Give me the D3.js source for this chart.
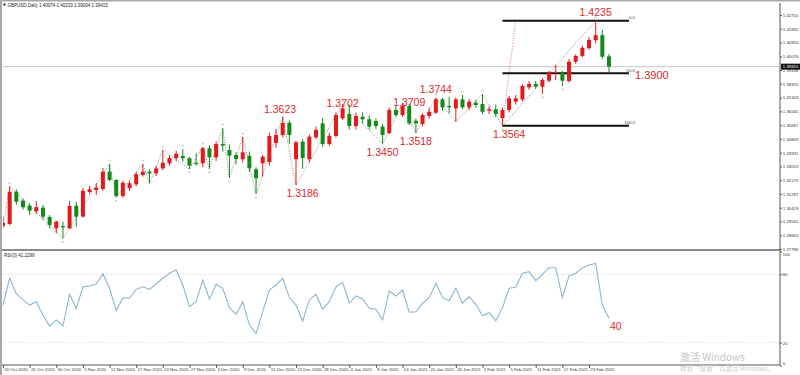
<!DOCTYPE html>
<html>
<head>
<meta charset="utf-8">
<script src="https://cdn.jsdelivr.net/npm/d3@7"></script>
<style>
  body { margin: 0; background: #fff; }
  svg { display: block; }
</style>
</head>
<body>
<div id="chart"></div>
<script>
// GBPUSD daily, 20 Oct 2020 -> 26 Feb 2021 (one entry per bar)
const opens = [1.2925,1.2938,1.3144,1.3087,1.3055,1.3019,1.3042,1.2983,1.2911,1.2925,
  1.2911,1.3055,1.2985,1.3142,1.3155,1.3161,1.3272,1.3219,1.3117,1.3166,
  1.3191,1.3251,1.3272,1.3261,1.3293,1.3325,1.3358,1.3372,1.3358,1.3329,
  1.3325,1.3421,1.3363,1.3448,1.3410,1.3378,1.3351,1.3373,1.3287,1.3325,
  1.3333,1.3455,1.3506,1.3584,1.3351,1.3463,1.3351,1.3491,1.3580,1.3448,
  1.3500,1.3612,1.3640,1.3563,1.3622,1.3606,1.3595,1.3559,1.3518,1.3665,
  1.3633,1.3691,1.3597,1.3576,1.3627,1.3648,1.3733,1.3691,1.3676,1.3733,
  1.3682,1.3712,1.3703,1.3660,1.3670,1.3614,1.3665,1.3718,1.3733,1.3810,
  1.3831,1.3814,1.3852,1.3903,1.3903,1.3850,1.3973,1.4010,1.4059,1.4110,
  1.4142,1.4007];
const highs = [1.2985,1.3177,1.3160,1.3100,1.3070,1.3085,1.3060,1.2995,1.2960,1.2953,
  1.3085,1.3080,1.3168,1.3180,1.3198,1.3295,1.3321,1.3225,1.3215,1.3215,
  1.3270,1.3321,1.3287,1.3310,1.3410,1.3375,1.3405,1.3416,1.3365,1.3389,
  1.3429,1.3440,1.3465,1.3550,1.3445,1.3395,1.3493,1.3400,1.3300,1.3380,
  1.3520,1.3545,1.3623,1.3600,1.3470,1.3480,1.3510,1.3560,1.3615,1.3520,
  1.3650,1.3702,1.3700,1.3650,1.3650,1.3630,1.3610,1.3575,1.3680,1.3690,
  1.3709,1.3705,1.3610,1.3645,1.3680,1.3744,1.3742,1.3750,1.3745,1.3761,
  1.3735,1.3730,1.3767,1.3690,1.3700,1.3680,1.3755,1.3760,1.3830,1.3850,
  1.3850,1.3870,1.3915,1.3952,1.3915,1.3990,1.4020,1.4075,1.4130,1.4235,
  1.4175,1.4023];
const lows = [1.2915,1.2930,1.3060,1.3030,1.2995,1.3002,1.2965,1.2911,1.2879,1.2847,
  1.2905,1.2921,1.2980,1.3130,1.3123,1.3150,1.3210,1.3108,1.3105,1.3150,
  1.3180,1.3240,1.3198,1.3245,1.3280,1.3310,1.3340,1.3335,1.3289,1.3310,
  1.3300,1.3289,1.3340,1.3400,1.3231,1.3320,1.3330,1.3270,1.3129,1.3240,
  1.3310,1.3425,1.3490,1.3450,1.3186,1.3290,1.3330,1.3480,1.3430,1.3435,
  1.3490,1.3600,1.3540,1.3540,1.3580,1.3540,1.3545,1.3450,1.3510,1.3620,
  1.3620,1.3570,1.3518,1.3560,1.3610,1.3640,1.3660,1.3644,1.3590,1.3670,
  1.3665,1.3680,1.3640,1.3640,1.3620,1.3564,1.3650,1.3700,1.3720,1.3795,
  1.3800,1.3767,1.3840,1.3856,1.3818,1.3840,1.3960,1.4000,1.4050,1.4090,
  1.3990,1.3900];
const closes = [1.2945,1.3144,1.3080,1.3045,1.3023,1.3046,1.2985,1.2932,1.2953,1.2917,
  1.3053,1.2985,1.3150,1.3159,1.3170,1.3272,1.3219,1.3117,1.3201,1.3198,
  1.3255,1.3272,1.3261,1.3293,1.3329,1.3359,1.3386,1.3358,1.3310,1.3321,
  1.3421,1.3363,1.3448,1.3438,1.3374,1.3353,1.3395,1.3293,1.3230,1.3367,
  1.3499,1.3506,1.3582,1.3506,1.3459,1.3358,1.3495,1.3538,1.3448,1.3501,
  1.3633,1.3676,1.3563,1.3627,1.3606,1.3559,1.3563,1.3506,1.3665,1.3633,
  1.3691,1.3580,1.3580,1.3633,1.3654,1.3733,1.3682,1.3682,1.3733,1.3682,
  1.3718,1.3697,1.3654,1.3670,1.3640,1.3665,1.3740,1.3740,1.3818,1.3831,
  1.3814,1.3856,1.3903,1.3909,1.3852,1.3973,1.4010,1.4062,1.4112,1.4142,
  1.4005,1.3942];
const rsi = [53,76.5,63,57.5,53,56,44.3,34.6,40,34.6,
  62.5,50,69,69.7,71.5,80.3,68,48,59.5,59,
  66.8,69,66.8,71.5,76.5,80.9,83.8,70.6,51.6,56,
  75,58.3,71.2,67.7,50.7,44.9,56,35.5,28.2,47.2,
  66.2,70.6,76.5,59.8,53,39,57.5,62.5,49.3,56,
  69,73,54.6,61,58.3,50.2,49.3,40,65.4,61,
  66.2,46.7,47.2,54.6,59.5,72.1,59.5,56.8,67.7,54.6,
  60.4,53.7,43.7,46.3,39.3,50.7,67.7,68.6,80.9,82.3,
  74.4,80,85.8,85.8,59.8,78.5,80.9,85.8,88.2,89.6,
  53,41.23];

// one label every 4 bars
const dateLabels = ["20 Oct 2020","26 Oct 2020","30 Oct 2020","5 Nov 2020","11 Nov 2020",
  "17 Nov 2020","23 Nov 2020","27 Nov 2020","3 Dec 2020","9 Dec 2020","15 Dec 2020",
  "21 Dec 2020","28 Dec 2020","4 Jan 2021","8 Jan 2021","14 Jan 2021","20 Jan 2021",
  "26 Jan 2021","1 Feb 2021","5 Feb 2021","11 Feb 2021","17 Feb 2021","23 Feb 2021"];
const priceTicks = [1.42710,1.41832,1.40954,1.40076,1.39198,1.38320,1.37443,1.36565,1.35687,
  1.34809,1.33931,1.33053,1.32175,1.31297,1.30419,1.29541,1.28663,1.27786];
const rsiTicks = [0, 20, 80, 100];

// zigzag swing points [bar, price]
const zigzag = [[0,1.2915],[1,1.3177],[9,1.2847],[16,1.3321],[17,1.3108],[21,1.3321],
  [22,1.3198],[24,1.3410],[28,1.3289],[30,1.3429],[31,1.3289],[33,1.3550],[34,1.3231],
  [36,1.3493],[38,1.3129],[42,1.3623],[44,1.3186],[51,1.3702],[57,1.3450],[60,1.3709],
  [62,1.3518],[65,1.3744],[68,1.3590],[72,1.3767],[75,1.3564],[89,1.4235]];
const fractalUp = [1,16,21,24,27,30,33,36,42,51,60,65,69,72,89];
const fractalDown = [9,17,28,31,34,38,44,57,62,75,81,84];

// fibonacci from 1.3564 low to 1.4235 high
const fibLow = 1.3564, fibHigh = 1.4235;
const fibLevels = [0, 50, 100];
const fibStart = 75, fibEnd = 94, fibAnchorBar = 77;

// red annotations: [text, bar, kind]
const notes = [["1.4235",89,"high"],["1.3623",41.6,"high"],["1.3702",51,"high"],
  ["1.3709",61,"high"],["1.3744",65,"high"],["1.3186",45,"low"],["1.3450",57,"low"],
  ["1.3518",62,"low"],["1.3564",76,"low"]];
const levelNote = "1.3900";
const rsiNote = "40";

const header = "GBPUSD,Daily  1.40074 1.40233 1.39004 1.39415";
const rsiHeader = "RSI(3) 41.2299";
const lastPrice = 1.39415;

const W = 800, H = 375;
const plotL = 3, plotR = 780, plotT = 3, mainB = 249, rsiB = 365;
const red = "#e3191c", green = "#15891a", noteRed = "#dc2a2a";
const tiny = "'Liberation Sans', Arial, sans-serif";

const svg = d3.select("#chart").append("svg")
  .attr("width", W).attr("height", H)
  .style("font-family", tiny);

svg.append("defs").append("clipPath").attr("id", "mainClip")
  .append("rect").attr("x", plotL).attr("y", plotT)
  .attr("width", plotR - plotL).attr("height", mainB - plotT);

const x = d3.scaleLinear().domain([0, 91]).range([3, 609]);
const y = d3.scaleLinear().domain([1.27786, 1.42710]).range([249, 15]);
const yR = d3.scaleLinear().domain([0, 100]).range([365.5, 251.5]);

// frame
svg.append("rect").attr("x", 0).attr("y", 0).attr("width", W).attr("height", 1.5).attr("fill", "#a8a8a8");
svg.append("rect").attr("x", 0).attr("y", 0).attr("width", 2).attr("height", H).attr("fill", "#a8a8a8");
svg.append("rect").attr("x", 2).attr("y", mainB).attr("width", plotR - 2).attr("height", 2).attr("fill", "#8a8a8a");
svg.append("line").attr("x1", plotR).attr("x2", plotR).attr("y1", plotT).attr("y2", rsiB)
  .attr("stroke", "#555").attr("stroke-width", 1);
svg.append("line").attr("x1", 2).attr("x2", plotR).attr("y1", rsiB).attr("y2", rsiB)
  .attr("stroke", "#555").attr("stroke-width", 1);

// headers
svg.append("rect").attr("x", 3.5).attr("y", 3.5).attr("width", 2).attr("height", 2).attr("fill", "#222");
svg.append("text").attr("x", 7.5).attr("y", 7).attr("font-size", 4.5).attr("fill", "#222").text(header);
svg.append("text").attr("x", 4).attr("y", 257).attr("font-size", 4.5).attr("fill", "#222").text(rsiHeader);

const main = svg.append("g").attr("clip-path", "url(#mainClip)");

// current price line
main.append("line").attr("x1", plotL).attr("x2", plotR)
  .attr("y1", y(lastPrice)).attr("y2", y(lastPrice))
  .attr("stroke", "#c4c4c4").attr("stroke-width", 1);

// zigzag
main.append("path").datum(zigzag)
  .attr("fill", "none").attr("stroke", "#6f866f").attr("stroke-width", 0.9)
  .attr("stroke-dasharray", "1,1.5")
  .attr("d", d3.line().x(d => x(d[0])).y(d => y(d[1])));

// fib trend line
main.append("line")
  .attr("x1", x(fibStart)).attr("y1", y(fibLow))
  .attr("x2", x(fibAnchorBar)).attr("y2", y(fibHigh))
  .attr("stroke", "#d2507a").attr("stroke-width", 0.8).attr("stroke-dasharray", "1,1.5");

// fib levels
fibLevels.forEach(lv => {
  const p = fibHigh - lv / 100 * (fibHigh - fibLow);
  main.append("line").attr("x1", x(fibStart)).attr("x2", x(fibEnd))
    .attr("y1", y(p)).attr("y2", y(p)).attr("stroke", "#111").attr("stroke-width", 2);
  main.append("text").attr("x", x(fibEnd) + 6).attr("y", y(p) - 1.5)
    .attr("text-anchor", "end").attr("font-size", 4.3).attr("fill", "#333")
    .text(lv.toFixed(1));
});

// candles
const bars = d3.range(opens.length).map(i => ({
  i, o: opens[i], h: highs[i], l: lows[i], c: closes[i]
}));
const candle = main.selectAll("g.candle").data(bars).join("g").attr("class", "candle");
candle.append("line")
  .attr("x1", d => x(d.i)).attr("x2", d => x(d.i))
  .attr("y1", d => y(d.h)).attr("y2", d => y(d.l))
  .attr("stroke", d => d.c >= d.o ? red : green).attr("stroke-width", 1);
candle.append("rect")
  .attr("x", d => x(d.i) - 2).attr("width", 4)
  .attr("y", d => y(Math.max(d.o, d.c)))
  .attr("height", d => Math.max(1, Math.abs(y(d.o) - y(d.c))))
  .attr("fill", d => d.c >= d.o ? red : green);

// fractal marks (small chevrons)
const chevron = (cx, cy, dir) => `M${cx - 1.3},${cy + 1.2 * dir}L${cx},${cy}L${cx + 1.3},${cy + 1.2 * dir}`;
main.selectAll("path.fup").data(fractalUp).join("path").attr("class", "fup")
  .attr("d", i => chevron(x(i), y(highs[i]) - 4, 1))
  .attr("fill", "none").attr("stroke", "#888").attr("stroke-width", 0.6);
main.selectAll("path.fdn").data(fractalDown).join("path").attr("class", "fdn")
  .attr("d", i => chevron(x(i), y(lows[i]) + 4, -1))
  .attr("fill", "none").attr("stroke", "#888").attr("stroke-width", 0.6);

// red notes
const nudge = { "1.3702": 8, "1.3709": 8, "1.3623": 1.5 };
svg.selectAll("text.note").data(notes).join("text").attr("class", "note")
  .attr("x", d => x(d[1]))
  .attr("y", d => y(+d[0]) + (d[2] === "high" ? -5 : 12) + (nudge[d[0]] || 0))
  .attr("text-anchor", "middle")
  .attr("font-size", 10.5).attr("fill", noteRed).text(d => d[0]);
svg.append("text").attr("x", x(fibEnd) + 6).attr("y", y(+levelNote) + 6)
  .attr("font-size", 11).attr("fill", noteRed).text(levelNote);

// price axis
const pAxis = svg.append("g").attr("transform", `translate(${plotR},0)`)
  .call(d3.axisRight(y).tickValues(priceTicks).tickSize(2).tickPadding(0.8)
    .tickFormat(d3.format(".5f")));
pAxis.select(".domain").remove();
pAxis.selectAll("text").attr("font-size", 4.3).attr("fill", "#333").attr("font-family", tiny);
pAxis.selectAll("line").attr("stroke", "#555");

// last price box
svg.append("rect").attr("x", plotR + 1).attr("y", y(lastPrice) - 3)
  .attr("width", 19).attr("height", 6).attr("fill", "#111");
svg.append("text").attr("x", plotR + 2.8).attr("y", y(lastPrice) + 1.5)
  .attr("font-size", 4.3).attr("fill", "#fff").text(lastPrice.toFixed(5));

// RSI panel
const rsiG = svg.append("g");
[20, 80].forEach(v => {
  rsiG.append("line").attr("x1", plotL).attr("x2", plotR)
    .attr("y1", yR(v)).attr("y2", yR(v))
    .attr("stroke", "#c8c8c8").attr("stroke-width", 0.8).attr("stroke-dasharray", "1,1.5");
});
rsiG.append("path").datum(rsi)
  .attr("fill", "none").attr("stroke", "#8ab6d0").attr("stroke-width", 1.1)
  .attr("d", d3.line().x((d, i) => x(i)).y(d => yR(d)));
svg.append("text").attr("x", x(91) + 1).attr("y", yR(+rsiNote) + 10)
  .attr("font-size", 10.5).attr("fill", noteRed).text(rsiNote);

const rAxis = svg.append("g").attr("transform", `translate(${plotR},0)`)
  .call(d3.axisRight(yR).tickValues(rsiTicks).tickSize(2).tickPadding(0.8));
rAxis.select(".domain").remove();
rAxis.selectAll("text").attr("font-size", 4.3).attr("fill", "#333").attr("font-family", tiny)
  .attr("dy", d => d === 100 ? "0.9em" : d === 0 ? "-0.2em" : "0.32em");
rAxis.selectAll("line").attr("stroke", "#555");

// date axis
const dAxis = svg.append("g").attr("transform", `translate(0,${rsiB})`)
  .call(d3.axisBottom(x).tickValues(dateLabels.map((d, k) => k * 4))
    .tickSize(3).tickPadding(1).tickFormat((d, k) => dateLabels[k]));
dAxis.select(".domain").remove();
dAxis.selectAll("text").attr("font-size", 4.3).attr("fill", "#333").attr("font-family", tiny)
  .attr("text-anchor", "start").attr("x", 0.8).attr("y", 2).attr("dy", "0.9em");
dAxis.selectAll("line").attr("stroke", "#555");

// activation watermark
svg.append("text").attr("x", 680).attr("y", 361)
  .attr("font-family", "'Noto Sans CJK SC', sans-serif").attr("font-size", 10)
  .attr("fill", "#c6c6c6").text("激活 Windows");
svg.append("text").attr("x", 680).attr("y", 371)
  .attr("font-family", "'Noto Sans CJK SC', sans-serif").attr("font-size", 6.5)
  .attr("fill", "#cdcdcd").text("转到“设置”以激活 Windows。");
</script>
</body>
</html>
